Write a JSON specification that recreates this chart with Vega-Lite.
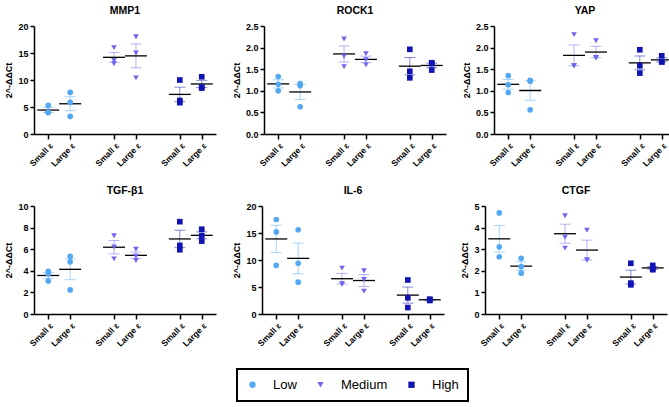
{
  "$schema": "https://vega.github.io/schema/vega-lite/v6.json",
  "background": "white",
  "padding": {"left": 4, "top": 5, "right": 2, "bottom": 2},
  "data": {
    "values": [
      {"gene": "MMP1", "grp": "Low Small ε", "level": "Low", "value": 4.0},
      {"gene": "MMP1", "grp": "Low Small ε", "level": "Low", "value": 5.3},
      {"gene": "MMP1", "grp": "Low Small ε", "level": "Low", "value": 4.0},
      {"gene": "MMP1", "grp": "Low Large ε", "level": "Low", "value": 7.7},
      {"gene": "MMP1", "grp": "Low Large ε", "level": "Low", "value": 5.85},
      {"gene": "MMP1", "grp": "Low Large ε", "level": "Low", "value": 3.25},
      {"gene": "MMP1", "grp": "Medium Small ε", "level": "Medium", "value": 13.0},
      {"gene": "MMP1", "grp": "Medium Small ε", "level": "Medium", "value": 16.0},
      {"gene": "MMP1", "grp": "Medium Small ε", "level": "Medium", "value": 13.6},
      {"gene": "MMP1", "grp": "Medium Large ε", "level": "Medium", "value": 18.0},
      {"gene": "MMP1", "grp": "Medium Large ε", "level": "Medium", "value": 15.0},
      {"gene": "MMP1", "grp": "Medium Large ε", "level": "Medium", "value": 10.4},
      {"gene": "MMP1", "grp": "High Small ε", "level": "High", "value": 10.0},
      {"gene": "MMP1", "grp": "High Small ε", "level": "High", "value": 6.2},
      {"gene": "MMP1", "grp": "High Small ε", "level": "High", "value": 5.8},
      {"gene": "MMP1", "grp": "High Large ε", "level": "High", "value": 8.5},
      {"gene": "MMP1", "grp": "High Large ε", "level": "High", "value": 10.6},
      {"gene": "MMP1", "grp": "High Large ε", "level": "High", "value": 8.7},
      {"gene": "ROCK1", "grp": "Low Small ε", "level": "Low", "value": 1.33},
      {"gene": "ROCK1", "grp": "Low Small ε", "level": "Low", "value": 1.15},
      {"gene": "ROCK1", "grp": "Low Small ε", "level": "Low", "value": 1.0},
      {"gene": "ROCK1", "grp": "Low Large ε", "level": "Low", "value": 1.17},
      {"gene": "ROCK1", "grp": "Low Large ε", "level": "Low", "value": 1.12},
      {"gene": "ROCK1", "grp": "Low Large ε", "level": "Low", "value": 0.63},
      {"gene": "ROCK1", "grp": "Medium Small ε", "level": "Medium", "value": 2.2},
      {"gene": "ROCK1", "grp": "Medium Small ε", "level": "Medium", "value": 1.8},
      {"gene": "ROCK1", "grp": "Medium Small ε", "level": "Medium", "value": 1.56},
      {"gene": "ROCK1", "grp": "Medium Large ε", "level": "Medium", "value": 1.86},
      {"gene": "ROCK1", "grp": "Medium Large ε", "level": "Medium", "value": 1.72},
      {"gene": "ROCK1", "grp": "Medium Large ε", "level": "Medium", "value": 1.6},
      {"gene": "ROCK1", "grp": "High Small ε", "level": "High", "value": 1.96},
      {"gene": "ROCK1", "grp": "High Small ε", "level": "High", "value": 1.45},
      {"gene": "ROCK1", "grp": "High Small ε", "level": "High", "value": 1.3},
      {"gene": "ROCK1", "grp": "High Large ε", "level": "High", "value": 1.65},
      {"gene": "ROCK1", "grp": "High Large ε", "level": "High", "value": 1.48},
      {"gene": "ROCK1", "grp": "High Large ε", "level": "High", "value": 1.63},
      {"gene": "YAP", "grp": "Low Small ε", "level": "Low", "value": 1.35},
      {"gene": "YAP", "grp": "Low Small ε", "level": "Low", "value": 1.14},
      {"gene": "YAP", "grp": "Low Small ε", "level": "Low", "value": 0.96},
      {"gene": "YAP", "grp": "Low Large ε", "level": "Low", "value": 1.24},
      {"gene": "YAP", "grp": "Low Large ε", "level": "Low", "value": 1.22},
      {"gene": "YAP", "grp": "Low Large ε", "level": "Low", "value": 0.56},
      {"gene": "YAP", "grp": "Medium Small ε", "level": "Medium", "value": 2.3},
      {"gene": "YAP", "grp": "Medium Small ε", "level": "Medium", "value": 1.58},
      {"gene": "YAP", "grp": "Medium Small ε", "level": "Medium", "value": 1.58},
      {"gene": "YAP", "grp": "Medium Large ε", "level": "Medium", "value": 2.16},
      {"gene": "YAP", "grp": "Medium Large ε", "level": "Medium", "value": 1.77},
      {"gene": "YAP", "grp": "Medium Large ε", "level": "Medium", "value": 1.76},
      {"gene": "YAP", "grp": "High Small ε", "level": "High", "value": 1.95},
      {"gene": "YAP", "grp": "High Small ε", "level": "High", "value": 1.58},
      {"gene": "YAP", "grp": "High Small ε", "level": "High", "value": 1.41},
      {"gene": "YAP", "grp": "High Large ε", "level": "High", "value": 1.81},
      {"gene": "YAP", "grp": "High Large ε", "level": "High", "value": 1.67},
      {"gene": "YAP", "grp": "High Large ε", "level": "High", "value": 1.67},
      {"gene": "TGF-β1", "grp": "Low Small ε", "level": "Low", "value": 3.95},
      {"gene": "TGF-β1", "grp": "Low Small ε", "level": "Low", "value": 3.7},
      {"gene": "TGF-β1", "grp": "Low Small ε", "level": "Low", "value": 3.05},
      {"gene": "TGF-β1", "grp": "Low Large ε", "level": "Low", "value": 5.35},
      {"gene": "TGF-β1", "grp": "Low Large ε", "level": "Low", "value": 4.83},
      {"gene": "TGF-β1", "grp": "Low Large ε", "level": "Low", "value": 2.23},
      {"gene": "TGF-β1", "grp": "Medium Small ε", "level": "Medium", "value": 7.25},
      {"gene": "TGF-β1", "grp": "Medium Small ε", "level": "Medium", "value": 6.2},
      {"gene": "TGF-β1", "grp": "Medium Small ε", "level": "Medium", "value": 5.1},
      {"gene": "TGF-β1", "grp": "Medium Large ε", "level": "Medium", "value": 6.0},
      {"gene": "TGF-β1", "grp": "Medium Large ε", "level": "Medium", "value": 5.35},
      {"gene": "TGF-β1", "grp": "Medium Large ε", "level": "Medium", "value": 4.95},
      {"gene": "TGF-β1", "grp": "High Small ε", "level": "High", "value": 8.55},
      {"gene": "TGF-β1", "grp": "High Small ε", "level": "High", "value": 5.95},
      {"gene": "TGF-β1", "grp": "High Small ε", "level": "High", "value": 6.35},
      {"gene": "TGF-β1", "grp": "High Large ε", "level": "High", "value": 7.85},
      {"gene": "TGF-β1", "grp": "High Large ε", "level": "High", "value": 7.25},
      {"gene": "TGF-β1", "grp": "High Large ε", "level": "High", "value": 6.75},
      {"gene": "IL-6", "grp": "Low Small ε", "level": "Low", "value": 17.5},
      {"gene": "IL-6", "grp": "Low Small ε", "level": "Low", "value": 15.2},
      {"gene": "IL-6", "grp": "Low Small ε", "level": "Low", "value": 9.0},
      {"gene": "IL-6", "grp": "Low Large ε", "level": "Low", "value": 15.6},
      {"gene": "IL-6", "grp": "Low Large ε", "level": "Low", "value": 9.4},
      {"gene": "IL-6", "grp": "Low Large ε", "level": "Low", "value": 5.9},
      {"gene": "IL-6", "grp": "Medium Small ε", "level": "Medium", "value": 8.5},
      {"gene": "IL-6", "grp": "Medium Small ε", "level": "Medium", "value": 5.5},
      {"gene": "IL-6", "grp": "Medium Small ε", "level": "Medium", "value": 5.6},
      {"gene": "IL-6", "grp": "Medium Large ε", "level": "Medium", "value": 8.0},
      {"gene": "IL-6", "grp": "Medium Large ε", "level": "Medium", "value": 6.4},
      {"gene": "IL-6", "grp": "Medium Large ε", "level": "Medium", "value": 4.2},
      {"gene": "IL-6", "grp": "High Small ε", "level": "High", "value": 6.3},
      {"gene": "IL-6", "grp": "High Small ε", "level": "High", "value": 3.0},
      {"gene": "IL-6", "grp": "High Small ε", "level": "High", "value": 1.2},
      {"gene": "IL-6", "grp": "High Large ε", "level": "High", "value": 2.5},
      {"gene": "IL-6", "grp": "High Large ε", "level": "High", "value": 2.7},
      {"gene": "IL-6", "grp": "High Large ε", "level": "High", "value": 2.7},
      {"gene": "CTGF", "grp": "Low Small ε", "level": "Low", "value": 4.68},
      {"gene": "CTGF", "grp": "Low Small ε", "level": "Low", "value": 3.11},
      {"gene": "CTGF", "grp": "Low Small ε", "level": "Low", "value": 2.65},
      {"gene": "CTGF", "grp": "Low Large ε", "level": "Low", "value": 2.58},
      {"gene": "CTGF", "grp": "Low Large ε", "level": "Low", "value": 2.19},
      {"gene": "CTGF", "grp": "Low Large ε", "level": "Low", "value": 1.89},
      {"gene": "CTGF", "grp": "Medium Small ε", "level": "Medium", "value": 4.55},
      {"gene": "CTGF", "grp": "Medium Small ε", "level": "Medium", "value": 3.55},
      {"gene": "CTGF", "grp": "Medium Small ε", "level": "Medium", "value": 3.05},
      {"gene": "CTGF", "grp": "Medium Large ε", "level": "Medium", "value": 3.88},
      {"gene": "CTGF", "grp": "Medium Large ε", "level": "Medium", "value": 2.5},
      {"gene": "CTGF", "grp": "Medium Large ε", "level": "Medium", "value": 2.5},
      {"gene": "CTGF", "grp": "High Small ε", "level": "High", "value": 2.35},
      {"gene": "CTGF", "grp": "High Small ε", "level": "High", "value": 1.43},
      {"gene": "CTGF", "grp": "High Small ε", "level": "High", "value": 1.35},
      {"gene": "CTGF", "grp": "High Large ε", "level": "High", "value": 2.25},
      {"gene": "CTGF", "grp": "High Large ε", "level": "High", "value": 2.05},
      {"gene": "CTGF", "grp": "High Large ε", "level": "High", "value": 2.1}
    ]
  },
  "facet": {
    "field": "gene",
    "type": "nominal",
    "sort": ["MMP1", "ROCK1", "YAP", "TGF-β1", "IL-6", "CTGF"],
    "header": {"title": null, "labelFont": "Liberation Sans", "labelFontSize": 10.5, "labelFontWeight": "bold", "labelColor": "black", "labelPadding": 6}
  },
  "columns": 3,
  "spacing": {"column": 16, "row": 17},
  "resolve": {
    "scale": {"y": "independent"},
    "axis": {"x": "independent", "y": "independent"}
  },
  "spec": {
    "width": 182,
    "height": 108,
    "encoding": {
      "x": {
        "field": "grp",
        "type": "nominal",
        "title": null,
        "scale": {
          "type": "point",
          "padding": 0.65,
          "domain": ["Low Small ε", "Low Large ε", "gap1", "Medium Small ε", "Medium Large ε", "gap2", "High Small ε", "High Large ε"]
        },
        "axis": {
          "values": ["Low Small ε", "Low Large ε", "Medium Small ε", "Medium Large ε", "High Small ε", "High Large ε"],
          "labelExpr": "replace(replace(replace(datum.value, 'Low ', ''), 'Medium ', ''), 'High ', '')",
          "labelAngle": -45,
          "labelAlign": "right",
          "labelBaseline": "top",
          "labelFontWeight": "bold",
          "labelFontSize": 8.5,
          "labelPadding": 2,
          "tickSize": 5,
          "tickWidth": 1.5,
          "domainWidth": 1.5
        }
      }
    },
    "layer": [
      {
        "mark": {"type": "errorbar", "extent": "stderr", "thickness": 1, "opacity": 0.5, "ticks": {"size": 11, "thickness": 1}},
        "encoding": {
          "y": {"field": "value", "type": "quantitative", "title": "2^-ΔΔCt", "scale": {"zero": true, "nice": 5}},
          "color": {"field": "level", "type": "nominal", "title": null}
        }
      },
      {
        "mark": {"type": "tick", "color": "black", "size": 22, "thickness": 1.3},
        "encoding": {
          "y": {"field": "value", "aggregate": "mean", "type": "quantitative", "title": "2^-ΔΔCt"}
        }
      },
      {
        "mark": {"type": "point", "filled": true, "opacity": 1, "size": 32},
        "encoding": {
          "y": {
            "field": "value",
            "type": "quantitative",
            "title": "2^-ΔΔCt",
            "axis": {"tickCount": 5, "labelFontWeight": "bold", "labelFontSize": 9, "titleFontSize": 9, "titleFontWeight": "bold", "titlePadding": 4, "tickWidth": 1.5, "tickSize": 4, "domainWidth": 1.5}
          },
          "color": {
            "field": "level",
            "type": "nominal",
            "title": null,
            "scale": {"domain": ["Low", "Medium", "High"], "range": ["#52A8F2", "#6E66EE", "#1114B4"]}
          },
          "shape": {
            "field": "level",
            "type": "nominal",
            "title": null,
            "scale": {"domain": ["Low", "Medium", "High"], "range": ["circle", "triangle-down", "square"]}
          }
        }
      }
    ]
  },
  "config": {
    "font": "Liberation Sans",
    "view": {"stroke": null},
    "axis": {"grid": false, "domainColor": "black", "tickColor": "black", "labelColor": "black", "titleColor": "black", "labelFont": "Liberation Sans", "titleFont": "Liberation Sans"},
    "legend": {
      "orient": "none",
      "legendX": 203,
      "legendY": 343,
      "direction": "horizontal",
      "labelFontSize": 13,
      "labelFont": "Liberation Sans",
      "labelColor": "black",
      "symbolSize": 40,
      "symbolOpacity": 1,
      "symbolStrokeWidth": 0,
      "labelOffset": 14,
      "columnPadding": 17,
      "padding": 9,
      "strokeColor": "black",
      "strokeWidth": 2
    }
  }
}
